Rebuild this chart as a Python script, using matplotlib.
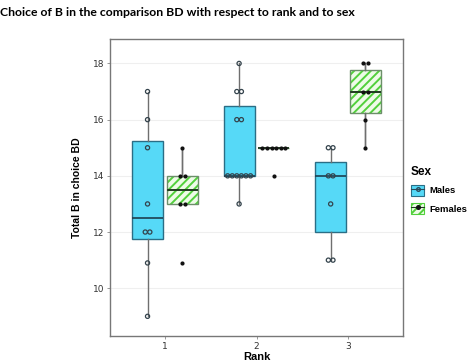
import numpy as np
import matplotlib
matplotlib.use("Agg")
import matplotlib.pyplot as plt
from matplotlib.patches import Patch
from matplotlib.lines import Line2D

# === Data ===
ranks = [1, 2, 3]
rank_labels = ["1", "2", "3"]
y_ticks = [10, 12, 14, 16, 18]

# raw points per rank
male_points = [
    [9, 10.9, 12, 12, 13, 15, 16, 17],
    [13, 14, 14, 14, 14, 14, 14, 16, 16, 17, 17, 18],
    [11, 11, 13, 14, 14, 15, 15],
]
female_points = [
    [10.9, 13, 13, 14, 14, 15],
    [14, 15, 15, 15, 15, 15, 15],
    [15, 16, 17, 17, 18, 18],
]

# box statistics per rank (as drawn)
male_q1 = [11.75, 14, 12]
male_med = [12.5, 14, 14]
male_q3 = [15.25, 16.5, 14.5]
male_lo = [9, 13, 11]
male_hi = [17, 18, 15]

female_q1 = [13, 15, 16.25]
female_med = [13.5, 15, 17]
female_q3 = [14, 15, 17.75]
female_lo = [13, 15, 15]
female_hi = [15, 15, 18]

# === Style ===
MALE_FILL = "#56d9f7"
MALE_EDGE = "#2a6e86"
FEMALE_FILL = "#eefbe8"
FEMALE_HATCH = "#52d03c"
FEMALE_EDGE = "#6c8f6a"
WHISKER = "#6f6f6f"
DODGE = 0.19
BOX_W = 0.34
STEP = 0.05

plt.rcParams["hatch.linewidth"] = 1.4


def box_stats(q1, med, q3, lo, hi):
    return [dict(q1=a, med=b, q3=c, whislo=d, whishi=e, fliers=[])
            for a, b, c, d, e in zip(q1, med, q3, lo, hi)]


def dot_offsets(values, step):
    # spread equal values side by side, centred on the box
    values = np.asarray(values, dtype=float)
    offs = np.zeros_like(values)
    for v in np.unique(values):
        idx = np.where(values == v)[0]
        n = len(idx)
        offs[idx] = (np.arange(n) - (n - 1) / 2) * step
    return offs


fig = plt.figure(figsize=(4.74, 3.64), dpi=100)
ax = fig.add_axes([110 / 474, 1 - 336 / 364, 293 / 474, 297 / 364])

pos_m = [r - DODGE for r in ranks]
pos_f = [r + DODGE for r in ranks]

# males
ax.bxp(box_stats(male_q1, male_med, male_q3, male_lo, male_hi), positions=pos_m,
       widths=BOX_W, patch_artist=True, showfliers=False, showcaps=False,
       boxprops=dict(facecolor=MALE_FILL, edgecolor=MALE_EDGE, linewidth=1.0),
       medianprops=dict(color="#1d3f4f", linewidth=1.2),
       whiskerprops=dict(color=WHISKER, linewidth=1.0), zorder=2)

# females: hatched fill first (hatch takes the edge colour), then the outline on top
ax.bxp(box_stats(female_q1, female_med, female_q3, female_lo, female_hi), positions=pos_f,
       widths=BOX_W, patch_artist=True, showfliers=False, showcaps=False,
       boxprops=dict(facecolor=FEMALE_FILL, edgecolor=FEMALE_HATCH, hatch="////", linewidth=0),
       medianprops=dict(color="#1f3a1f", linewidth=1.2),
       whiskerprops=dict(color=WHISKER, linewidth=1.0), zorder=2)
ax.bxp(box_stats(female_q1, female_med, female_q3, female_lo, female_hi), positions=pos_f,
       widths=BOX_W, patch_artist=True, showfliers=False, showcaps=False,
       boxprops=dict(facecolor="none", edgecolor=FEMALE_EDGE, linewidth=1.0),
       medianprops=dict(color="#1f3a1f", linewidth=1.2),
       whiskerprops=dict(color=WHISKER, linewidth=1.0), zorder=2.5)

# points
for p, vals in zip(pos_m, male_points):
    x = p + dot_offsets(vals, STEP)
    ax.scatter(x, vals, s=9, facecolor="none", edgecolor="#34434c", linewidths=0.9, zorder=4)
for p, vals in zip(pos_f, female_points):
    x = p + dot_offsets(vals, STEP)
    ax.scatter(x, vals, s=9, color="#111111", linewidths=0, zorder=4)

# === Axes ===
ax.set_xlim(0.4, 3.6)
ax.set_ylim(8.3, 18.87)
ax.set_xticks(ranks)
ax.set_xticklabels(rank_labels)
ax.set_yticks(y_ticks)
ax.yaxis.grid(True, color="#efefef", linewidth=0.8)
ax.set_axisbelow(True)
ax.tick_params(axis="both", length=2, width=0.6, color="#888888",
               labelsize=6.5, labelcolor="#333333", pad=2)
for sp in ax.spines.values():
    sp.set_color("#777777")
    sp.set_linewidth(1.0)

ax.set_xlabel("Rank", fontsize=8, fontweight="bold", family="Liberation Sans", labelpad=1)
ax.set_ylabel("Total B in choice BD", fontsize=7.5, fontweight="bold",
              family="Liberation Sans", labelpad=8)

fig.text(0.0, 1 - 18 / 364, "Choice of B in the comparison BD with respect to rank and to sex",
         fontsize=8.8, fontweight="bold", family="Lato", ha="left", va="bottom")

# === Legend ===
male_handle = (Patch(facecolor=MALE_FILL, edgecolor=MALE_EDGE, linewidth=0.8),
               Line2D([], [], color="#2a4a5a", linewidth=0.8, marker="o", markersize=2.6,
                      markerfacecolor="none", markeredgecolor="#2a4a5a"))
female_handle = (Patch(facecolor=FEMALE_FILL, edgecolor=FEMALE_HATCH, hatch="////", linewidth=0.8),
                 Line2D([], [], color="#1f3a1f", linewidth=0.8, marker="o", markersize=2.6,
                        markerfacecolor="#111111", markeredgecolor="#111111"))
leg = fig.legend([male_handle, female_handle], ["Males", "Females"], title="Sex",
                 loc="upper left", bbox_to_anchor=(411 / 474, 1 - 166 / 364), frameon=False,
                 prop=dict(family="Liberation Sans", weight="bold", size=6.8),
                 title_fontproperties=dict(family="Liberation Sans", weight="bold", size=8.5),
                 handlelength=1.4, handleheight=1.5, handletextpad=0.5, labelspacing=0.7,
                 borderaxespad=0, borderpad=0, alignment="left")

fig.savefig("out.png", dpi=100)
